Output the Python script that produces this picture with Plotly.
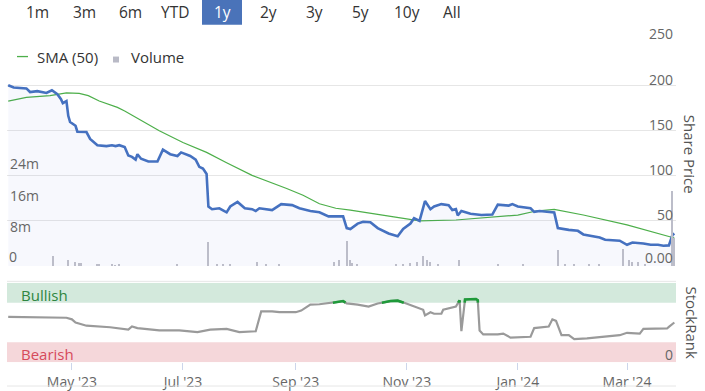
import plotly.graph_objects as go
import pandas as pd

# ---------------- data ----------------
price_dates = ["2023-03-27","2023-03-30","2023-04-06","2023-04-08","2023-04-12","2023-04-17","2023-04-20",
    "2023-04-23","2023-04-25","2023-04-26","2023-04-28","2023-04-29","2023-04-30","2023-05-03","2023-05-04",
    "2023-05-09","2023-05-11","2023-05-15","2023-05-20","2023-05-23","2023-05-25","2023-05-27","2023-05-30",
    "2023-06-01","2023-06-03","2023-06-05","2023-06-06","2023-06-08","2023-06-12","2023-06-17","2023-06-20",
    "2023-06-24","2023-06-28","2023-06-30","2023-07-05","2023-07-08","2023-07-10","2023-07-12","2023-07-14",
    "2023-07-15","2023-07-17","2023-07-21","2023-07-25","2023-07-27","2023-07-31","2023-08-04","2023-08-08",
    "2023-08-10","2023-08-12","2023-08-19","2023-08-24","2023-08-30","2023-09-03","2023-09-09","2023-09-14",
    "2023-09-19","2023-09-27","2023-09-29","2023-10-01","2023-10-05","2023-10-08","2023-10-12","2023-10-16",
    "2023-10-19","2023-10-22","2023-10-27","2023-10-30","2023-11-03","2023-11-05","2023-11-08","2023-11-11",
    "2023-11-14","2023-11-16","2023-11-20","2023-11-24","2023-11-26","2023-11-28","2023-11-29","2023-12-01",
    "2023-12-06","2023-12-12","2023-12-18","2023-12-21","2023-12-27","2023-12-29","2024-01-01","2024-01-08",
    "2024-01-10","2024-01-13","2024-01-21","2024-01-23","2024-01-29","2024-02-03","2024-02-06","2024-02-11",
    "2024-02-15","2024-02-18","2024-02-26","2024-03-01","2024-03-04","2024-03-10","2024-03-14","2024-03-18",
    "2024-03-21","2024-03-24","2024-03-26","2024-03-27"]
price_values = [200.5,198,197,193,194,192,195,
    190.5,185,180.6,183,166.6,159.7,155.6,149,
    148.6,141,134,133,134,133,134,132,
    122.6,121,118,124,119,116,116,129,
    124,122,126,122,118,110,108,102,
    66,63,64,59.5,66,71,64,63,
    61,64,62,68.6,67.5,64,61,59.5,
    55,55,42,41,47,49,48.5,42,
    39,36,33,41,47,53,50,72,
    63,66,68.6,67.5,62,63,56,61,
    58,56.5,57,68,67,68.6,66,64,
    60,61,59.5,42,40,39,35,33,
    31.6,29,28,23.5,26,25,23.5,23.5,
    22.4,22.8,34.5,36]

sma_dates = ["2023-03-27","2023-04-06","2023-04-19","2023-04-28","2023-05-05","2023-05-10","2023-05-16",
    "2023-05-26","2023-05-30","2023-06-07","2023-06-18","2023-07-01","2023-07-14","2023-07-25","2023-08-08",
    "2023-08-27","2023-09-05","2023-09-14","2023-09-23","2023-10-01","2023-10-19","2023-11-04","2023-11-08",
    "2023-11-28","2023-12-16","2024-01-01","2024-01-11","2024-01-21","2024-02-06","2024-03-01","2024-03-26",
    "2024-03-27"]
sma_values = [183,187,189,192,191.6,189,183,
    176,172,163,150,137,126,114.5,100.5,
    86,78.5,69,64,62,56.5,51,50,
    51,54,56.5,61,62.8,56.5,45.5,31.6,
    31]

volume_dates = ["2023-04-21","2023-04-29","2023-05-03","2023-05-05","2023-05-06","2023-05-15","2023-05-16",
    "2023-05-23","2023-05-25","2023-05-27","2023-06-28","2023-07-15","2023-07-20","2023-07-23","2023-07-27",
    "2023-08-11","2023-08-16","2023-08-23","2023-09-22","2023-09-25","2023-09-29","2023-10-01","2023-10-02",
    "2023-10-05","2023-10-26","2023-10-30","2023-11-03","2023-11-07","2023-11-10","2023-11-12","2023-11-14",
    "2023-11-18","2023-11-30","2023-12-21","2024-01-04","2024-01-23","2024-01-27","2024-02-01","2024-02-09",
    "2024-02-15","2024-02-28","2024-03-02","2024-03-04","2024-03-07","2024-03-11","2024-03-26","2024-03-27"]
volume_millions = [2.5,1.5,1.0,0.8,0.8,0.5,0.5,
    0.5,0.4,0.5,0.5,6.0,0.6,0.5,0.6,
    1.0,0.5,0.5,1.0,1.5,6.3,1.5,0.8,
    0.5,0.5,0.5,0.7,1.0,2.7,1.5,1.0,
    0.5,1.5,0.5,0.5,4.0,0.6,0.5,0.5,
    0.5,4.3,1.5,1.2,1.0,0.6,19,7]

rank_dates = ["2023-03-27","2023-04-28","2023-05-01","2023-05-03","2023-05-09","2023-05-22","2023-06-01",
    "2023-06-03","2023-06-06","2023-06-18","2023-06-29","2023-07-09","2023-07-16","2023-07-25","2023-08-01",
    "2023-08-10","2023-08-13","2023-08-19","2023-08-23","2023-09-01","2023-09-04","2023-09-09","2023-09-14",
    "2023-09-20","2023-09-27","2023-09-29","2023-10-05","2023-10-11","2023-10-16","2023-10-23","2023-10-27",
    "2023-10-31","2023-11-04","2023-11-07","2023-11-10","2023-11-11","2023-11-14","2023-11-16","2023-11-20",
    "2023-11-21","2023-11-25","2023-11-28","2023-11-30","2023-12-01","2023-12-03","2023-12-09","2023-12-10",
    "2023-12-11","2023-12-13","2023-12-21","2023-12-24","2023-12-28","2024-01-08","2024-01-10","2024-01-18",
    "2024-01-20","2024-01-22","2024-01-25","2024-01-29","2024-02-01","2024-02-08","2024-02-17","2024-02-26",
    "2024-03-01","2024-03-08","2024-03-10","2024-03-23","2024-03-24","2024-03-27"]
rank_values = [57,56,54,50,46,44,41,
    45,43,40,40,38,41,42,38,
    39,64,64,63,63,65,72.5,73,
    74.5,77,74,72.5,70,74,77,77.5,
    74.5,71,68,66,59,63,61,61,
    66,68,70,78,39,79,79.6,78,
    40,35,35,36,31,32,43,45,
    54,52,34,34,29,30,32,34,
    37,36,42,42.5,44.5,50]

price_ticks = [0, 50, 100, 150, 200, 250]
price_tick_labels = ["0.00", "50", "100", "150", "200", "250"]
volume_ticks = [0, 8, 16, 24]
volume_tick_labels = ["0", "8m", "16m", "24m"]
rank_ticks = [0]
rank_tick_labels = ["0"]
range_buttons = ["1m", "3m", "6m", "YTD", "1y", "2y", "3y", "5y", "10y", "All"]
selected_button = "1y"
bullish_threshold = 75
bearish_threshold = 25

# ---------------- helpers ----------------
W, H = 705, 391
FONT = "Open Sans, Noto Sans, DejaVu Sans, sans-serif"


def fx(p):
    return p / W


def fy(p):
    return 1 - p / H


def zone_series(dates, values, thr):
    """Return x/y lists with only the parts >= thr (crossings interpolated)."""
    ts = [pd.Timestamp(d) for d in dates]
    xs, ys = [], []
    for i in range(len(ts)):
        v = values[i]
        if i > 0:
            v0 = values[i - 1]
            if (v0 - thr) * (v - thr) < 0:
                f = (thr - v0) / (v - v0)
                tc = ts[i - 1] + (ts[i] - ts[i - 1]) * f
                xs.append(tc)
                ys.append(thr)
                if v < thr:
                    xs.append(None)
                    ys.append(None)
        if v >= thr:
            xs.append(ts[i])
            ys.append(v)
    return xs, ys


X0, X1 = 7, 676
x_dom = [fx(X0), fx(X1)]
price_dom = [fy(268), fy(41)]
rank_dom = [fy(365), fy(285)]

fig = go.Figure()

# volume bars
fig.add_trace(go.Bar(
    x=volume_dates, y=volume_millions, xaxis="x2", yaxis="y2",
    marker=dict(color="#bcbdc9", line=dict(width=0)), width=86400000 * 0.8,
    showlegend=False, hoverinfo="skip"))

# SMA
fig.add_trace(go.Scatter(
    x=sma_dates, y=sma_values, xaxis="x2", yaxis="y", mode="lines",
    line=dict(color="#4daf4a", width=1.2), showlegend=False, hoverinfo="skip"))

# price
fig.add_trace(go.Scatter(
    x=price_dates, y=price_values, xaxis="x2", yaxis="y", mode="lines",
    line=dict(color="#4571c0", width=2.6), fill="tozeroy",
    fillcolor="rgba(70,90,200,0.045)", showlegend=False, hoverinfo="skip"))

# stockrank
fig.add_trace(go.Scatter(
    x=rank_dates, y=rank_values, xaxis="x", yaxis="y3", mode="lines",
    line=dict(color="#9a9a9a", width=2.2), showlegend=False, hoverinfo="skip"))
gx, gy = zone_series(rank_dates, rank_values, bullish_threshold)
fig.add_trace(go.Scatter(
    x=gx, y=gy, xaxis="x", yaxis="y3", mode="lines", connectgaps=False,
    line=dict(color="#1f9a3a", width=2.6), showlegend=False, hoverinfo="skip"))

shapes = [
    dict(type="rect", xref="paper", yref="y3", x0=x_dom[0], x1=x_dom[1],
         y0=bullish_threshold, y1=100, fillcolor="#d3e9dc", line=dict(width=0), layer="below"),
    dict(type="rect", xref="paper", yref="y3", x0=x_dom[0], x1=x_dom[1],
         y0=0, y1=bearish_threshold, fillcolor="#f5d7da", line=dict(width=0), layer="below"),
    dict(type="line", xref="paper", yref="paper", x0=x_dom[0], x1=x_dom[1],
         y0=fy(283.5), y1=fy(283.5), line=dict(color="#e6e6e6", width=1)),
    dict(type="line", xref="paper", yref="paper", x0=x_dom[0], x1=x_dom[1],
         y0=fy(389), y1=fy(389), line=dict(color="#e6e6e6", width=1)),
]

annotations = []
# range selector buttons
btn_centers = [37, 84, 130, 175, 222, 268, 314, 360, 407, 452]
for lab, cx in zip(range_buttons, btn_centers):
    sel = lab == selected_button
    if sel:
        shapes.append(dict(type="rect", xref="paper", yref="paper",
                           x0=fx(cx - 20), x1=fx(cx + 20), y0=fy(25), y1=fy(-2),
                           fillcolor="#4a73b9", line=dict(width=0)))
    annotations.append(dict(text=lab, xref="paper", yref="paper", x=fx(cx), y=fy(12),
                            showarrow=False, xanchor="center", yanchor="middle",
                            font=dict(family=FONT, size=15.5, color="#ffffff" if sel else "#333333")))

# legend
shapes.append(dict(type="line", xref="paper", yref="paper", x0=fx(17), x1=fx(28),
                   y0=fy(57), y1=fy(57), line=dict(color="#4daf4a", width=1.3)))
annotations.append(dict(text="SMA (50)", xref="paper", yref="paper", x=fx(35), y=fy(57),
                        showarrow=False, xanchor="left", yanchor="middle",
                        font=dict(family=FONT, size=15, color="#333333")))
shapes.append(dict(type="rect", xref="paper", yref="paper", x0=fx(113), x1=fx(119),
                   y0=fy(63), y1=fy(57), fillcolor="#b9bac6", line=dict(width=0)))
annotations.append(dict(text="Volume", xref="paper", yref="paper", x=fx(129), y=fy(57),
                        showarrow=False, xanchor="left", yanchor="middle",
                        font=dict(family=FONT, size=15, color="#333333")))

tickfont = dict(family=FONT, size=14, color="#666666")

# edge tick labels (plotly hides inside labels that touch the plot edge)
annotations.append(dict(text=price_tick_labels[-1], xref="paper", yref="y", x=fx(675),
                        y=price_ticks[-1], showarrow=False, xanchor="right", yanchor="middle",
                        yshift=7, font=tickfont))
annotations.append(dict(text=price_tick_labels[0], xref="paper", yref="y", x=fx(675),
                        y=price_ticks[0], showarrow=False, xanchor="right", yanchor="middle",
                        yshift=8, font=tickfont))
annotations.append(dict(text=volume_tick_labels[0], xref="paper", yref="y2", x=fx(7),
                        y=volume_ticks[0], showarrow=False, xanchor="left", yanchor="middle",
                        yshift=9, font=tickfont))
annotations.append(dict(text=rank_tick_labels[0], xref="paper", yref="y3", x=fx(675),
                        y=rank_ticks[0], showarrow=False, xanchor="right", yanchor="middle",
                        yshift=8, font=tickfont))

# axis titles
annotations.append(dict(text="Share Price", xref="paper", yref="paper", x=fx(690), y=fy(155),
                        showarrow=False, textangle=90, xanchor="center", yanchor="middle",
                        font=dict(family=FONT, size=15, color="#555555")))
annotations.append(dict(text="StockRank", xref="paper", yref="paper", x=fx(692), y=fy(325),
                        showarrow=False, textangle=90, xanchor="center", yanchor="middle",
                        font=dict(family=FONT, size=15, color="#555555")))
# band labels
annotations.append(dict(text="Bullish", xref="paper", yref="paper", x=fx(19), y=fy(297),
                        showarrow=False, xanchor="left", yanchor="middle",
                        font=dict(family=FONT, size=15, color="#2e8540")))
annotations.append(dict(text="Bearish", xref="paper", yref="paper", x=fx(19), y=fy(357),
                        showarrow=False, xanchor="left", yanchor="middle",
                        font=dict(family=FONT, size=15, color="#d64a5a")))

inner_price_text = [""] + price_tick_labels[1:-1] + [""]
inner_volume_text = [""] + volume_tick_labels[1:]

fig.update_layout(
    width=W, height=H, margin=dict(l=0, r=0, t=0, b=0),
    paper_bgcolor="white", plot_bgcolor="rgba(0,0,0,0)",
    showlegend=False, hovermode=False, bargap=0,
    xaxis=dict(domain=x_dom, anchor="y3", type="date",
               range=["2023-03-26 08:00", "2024-03-27 22:00"],
               tick0="2023-01-01", dtick="M2", tickformat="%b '%y",
               ticks="outside", ticklen=7, tickcolor="#ccd6eb", tickwidth=1,
               showgrid=False, zeroline=False, showline=False, tickfont=tickfont),
    xaxis2=dict(domain=x_dom, anchor="y", matches="x", type="date",
                showticklabels=False, showgrid=False, zeroline=False, ticks=""),
    yaxis=dict(domain=price_dom, anchor="x2", side="right", range=[0, 250],
               tickvals=price_ticks, ticktext=inner_price_text,
               ticklabelposition="inside top", ticklabelshift=4,
               gridcolor="#e6e6e6", gridwidth=1,
               zeroline=False, showline=False, ticks="", tickfont=tickfont),
    yaxis2=dict(domain=price_dom, anchor="x2", overlaying="y", side="left",
                range=[0, 56.75], tickvals=volume_ticks, ticktext=inner_volume_text,
                ticklabelposition="inside top", ticklabelshift=3,
                showgrid=False, zeroline=False,
                showline=False, ticks="", tickfont=tickfont),
    yaxis3=dict(domain=rank_dom, anchor="x", side="right", range=[0, 100],
                showticklabels=False,
                showgrid=False, zeroline=False, showline=False, ticks=""),
    shapes=shapes, annotations=annotations,
)

fig.write_html("out.html", config={"displayModeBar": False},
               post_script="document.body.style.margin='0';document.body.style.overflow='hidden';")
